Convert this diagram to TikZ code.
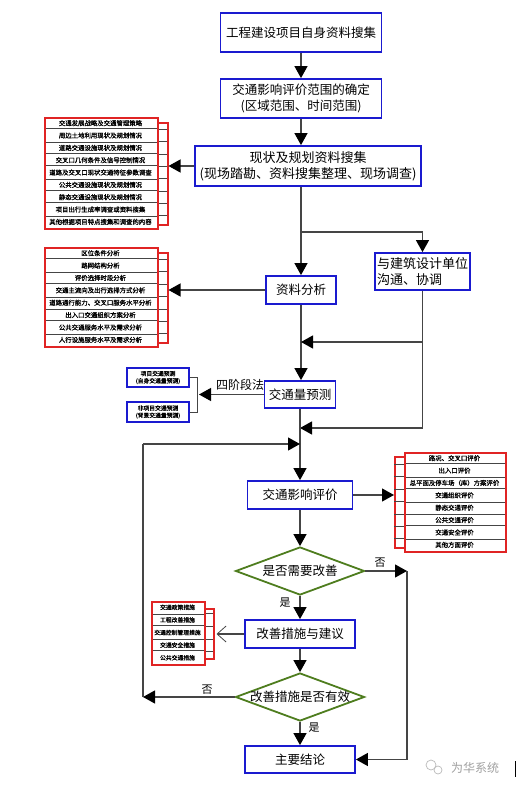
\documentclass[tikz,border=0pt]{standalone}
\usepackage{fontspec}
\setmainfont{Noto Sans CJK SC}
\newfontfamily\lfont[FakeBold=1.2]{Noto Sans CJK SC}
\usetikzlibrary{shapes.geometric,arrows.meta,calc}
\definecolor{bbl}{HTML}{1A1ACF}
\definecolor{rred}{HTML}{E02424}
\definecolor{ggr}{HTML}{4E7D1E}
\definecolor{lgray}{HTML}{454545}
\begin{document}
\begin{tikzpicture}[x=1pt,y=-1pt,
  mainbox/.style={draw=bbl, line width=1.8pt, fill=white, inner sep=1pt, align=center, font=\fontsize{12.5}{15.5}\selectfont},
  decision/.style={shape=diamond, draw=ggr, line width=1.8pt, fill=white, minimum width=129pt, minimum height=48pt, inner sep=0pt},
  dtext/.style={font=\fontsize{12.5}{15}\selectfont, inner sep=0pt},
  conn/.style={draw=lgray, line width=1.2pt},
  arr/.style={-{Triangle[length=12pt,width=13pt,color=black]}},
  openarr/.style={-{Straight Barb[length=9pt,width=16pt,line width=0.8pt]}},
  lbl/.style={font=\fontsize{11}{13}\selectfont, inner sep=0pt, text=black},
  smallbox/.style={draw=bbl, line width=1.5pt, fill=white, minimum width=62pt, inner sep=0.5pt, align=center, font=\lfont\fontsize{5.8}{7.2}\selectfont},
  listframe/.style={draw=rred, line width=1.8pt},
  bracketbox/.style={draw=rred, line width=1.5pt},
  litem/.style={font=\lfont\fontsize{6.4}{7}\selectfont, inner sep=0pt},
  sep/.style={draw=lgray, line width=0.6pt, double=white, double distance=0.8pt},
  tickln/.style={draw=lgray, line width=0.6pt}
]
\useasboundingbox (0,0) rectangle (516,792);

% ---------- main column ----------
\node[mainbox, minimum width=161pt, minimum height=39pt] (b1) at (301,32.5) {工程建设项目自身资料搜集};
\node[mainbox, minimum width=161pt, minimum height=39pt] (b2) at (301,98.5) {交通影响评价范围的确定\\(区域范围、时间范围)};
\node[mainbox, minimum width=226pt, minimum height=40pt, font=\fontsize{13}{16}\selectfont] (b3) at (308,166) {现状及规划资料搜集\\(现场踏勘、资料搜集整理、现场调查)};
\node[mainbox, minimum width=70pt, minimum height=28pt] (a) at (301,290) {资料分析};
\node[mainbox, minimum width=95pt, minimum height=37pt, align=left, font=\fontsize{13}{16}\selectfont] (c) at (422.5,271.5) {与建筑设计单位\\沟通、协调};
\node[mainbox, minimum width=71pt, minimum height=27pt] (p) at (300,394.5) {交通量预测};
\node[mainbox, minimum width=105pt, minimum height=28pt] (e) at (300,495) {交通影响评价};
\node[decision] (d1) at (300,571) {};
\node[dtext] (d1t) at (d1) {是否需要改善};
\node[mainbox, minimum width=110pt, minimum height=28pt] (i) at (300,634) {改善措施与建议};
\node[decision] (d2) at (300,697) {};
\node[dtext] (d2t) at (d2) {改善措施是否有效};
\node[mainbox, minimum width=110pt, minimum height=27pt] (k) at (300,759.5) {主要结论};

% helper coordinates
\coordinate (br) at (301,232);
\coordinate (m1) at (301,342);
\coordinate (m2) at (300,428);
\coordinate (m3) at (300,444);
\coordinate (lp1) at (143,444);
\coordinate (lp2) at (143,697);
\coordinate (rp1) at (407,571);
\coordinate (rp2) at (407,759.5);

% main connectors
\draw[conn,arr] (b1.south) -- (b2.north);
\draw[conn,arr] (b2.south) -- (b2.south |- b3.north);
\draw[conn,arr] (a.north |- b3.south) -- (a.north);
\draw[conn,arr] (br) -| (c.north);
\draw[conn,arr] (a.south) -- (a.south |- p.north);
\draw[conn] (c.south) -- (c.south |- m2);
\draw[conn,arr] (c.south |- m1) -- (m1);
\draw[conn,arr] (c.south |- m2) -- (m2);
\draw[conn,arr] (p.south) -- (e.north);
\draw[conn,arr] (e.south) -- (d1.north);
\draw[conn,arr] (d1.south) -- (i.north);
\draw[conn,arr] (i.south) -- (d2.north);
\draw[conn,arr] (d2.south) -- (k.north);
\draw[conn,arr] (d1.east) -- (rp1);
\draw[conn] (rp1) -- (rp2);
\draw[conn,arr] (rp2) -- (k.east);
\draw[conn,arr] (d2.west) -- (lp2);
\draw[conn] (lp2) -- (lp1);
\draw[conn,arr] (lp1) -- (m3);

\node[lbl] (yes1) at (285,603) {是};
\node[lbl] (no1) at (380,563) {否};
\node[lbl] (no2) at (207,690) {否};
\node[lbl] (yes2) at (314,728) {是};

% ---------- list 1 ----------
\node[bracketbox, anchor=north west, minimum width=10pt, minimum height=102pt, inner sep=0pt] (k1) at (157,122) {};
\foreach \i in {1,...,8} \draw[tickln] (157,{117+\i*12.333}) -- (167,{117+\i*12.333});
\foreach \i in {1,...,8} \draw[sep] (44,{117+\i*12.333}) -- (157,{117+\i*12.333});
\foreach \t [count=\i] in {交通发展战略及交通管理策略,周边土地利用现状及规划情况,道路交通设施现状及规划情况,交叉口几何条件及信号控制情况,道路及交叉口现状交通特征参数调查,公共交通设施现状及规划情况,静态交通设施现状及规划情况,项目出行生成率调查或资料搜集,其他根据项目特点搜集和调查的内容}
  \node[litem] (l1-\i) at (100.5,{117+(\i-0.5)*12.333}) {\t};
\node[listframe, anchor=north west, minimum width=113pt, minimum height=111pt, inner sep=0pt] (list1) at (44,117) {};
\draw[conn,arr] (b3.west) -- (b3.west -| k1.east);

% ---------- list 2 ----------
\node[bracketbox, anchor=north west, minimum width=10pt, minimum height=90pt, inner sep=0pt] (k2) at (157,252) {};
\foreach \i in {1,...,7} \draw[tickln] (157,{247+\i*12.375}) -- (167,{247+\i*12.375});
\foreach \i in {1,...,7} \draw[sep] (44,{247+\i*12.375}) -- (157,{247+\i*12.375});
\foreach \t [count=\i] in {区位条件分析,路网结构分析,评价选择时段分析,交通主流向及出行选择方式分析,道路通行能力、交叉口服务水平分析,出入口交通组织方案分析,公共交通服务水平及需求分析,人行设施服务水平及需求分析}
  \node[litem] (l2-\i) at (100.5,{247+(\i-0.5)*12.375}) {\t};
\node[listframe, anchor=north west, minimum width=113pt, minimum height=99pt, inner sep=0pt] (list2) at (44,247) {};
\draw[conn,arr] (a.west) -- (a.west -| k2.east);

% ---------- list 3 ----------
\node[bracketbox, anchor=north west, minimum width=10pt, minimum height=91pt, inner sep=0pt] (k3) at (394,456) {};
\foreach \i in {1,...,7} \draw[tickln] (394,{452+\i*12.375}) -- (404,{452+\i*12.375});
\foreach \i in {1,...,7} \draw[sep] (404,{452+\i*12.375}) -- (505,{452+\i*12.375});
\foreach \t [count=\i] in {路况、交叉口评价,出入口评价,总平面及停车场（库）方案评价,交通组织评价,静态交通评价,公共交通评价,交通安全评价,其他方面评价}
  \node[litem] (l3-\i) at (454.5,{452+(\i-0.5)*12.375}) {\t};
\node[listframe, anchor=north west, minimum width=101pt, minimum height=99pt, inner sep=0pt] (list3) at (404,452) {};
\draw[conn,arr] (e.east) -- (e.east -| k3.west);

% ---------- list 4 ----------
\node[bracketbox, anchor=north west, minimum width=9pt, minimum height=50pt, inner sep=0pt] (k4) at (204,608) {};
\foreach \i in {1,...,4} \draw[tickln] (204,{601+\i*12.6}) -- (213,{601+\i*12.6});
\foreach \i in {1,...,4} \draw[sep] (151,{601+\i*12.6}) -- (204,{601+\i*12.6});
\foreach \t [count=\i] in {交通政策措施,工程改善措施,交通控制管理措施,交通安全措施,公共交通措施}
  \node[litem, font=\lfont\fontsize{5.8}{7}\selectfont] (l4-\i) at (177.5,{601+(\i-0.5)*12.6}) {\t};
\node[listframe, anchor=north west, minimum width=53pt, minimum height=63pt, inner sep=0pt] (list4) at (151,601) {};
\draw[conn,openarr] (i.west) -- ($(i.west -| k4.east)+(2,0)$);

% ---------- forecast boxes ----------
\node[smallbox, minimum height=19pt] (s1) at (158,377.5) {项目交通预测\\(自身交通量预测)};
\node[smallbox, minimum height=20pt] (s2) at (158,412) {非项目交通预测\\(背景交通量预测)};
\draw[draw=lgray, line width=0.8pt] (s1.east) -- ++(8,0) |- (s2.east);
\coordinate (sb) at (199,394.5);
\draw[conn,arr] (p.west) -- (sb);
\node[lbl, font=\fontsize{12}{14}\selectfont] (fourstep) at (240,385) {四阶段法};

% ---------- watermark ----------
\draw[gray!55, line width=0.7pt] (431,765) circle (5);
\draw[gray!55, line width=0.7pt] (438,770) circle (4);
\node[font=\fontsize{12}{14}\selectfont, text=gray!75, inner sep=0pt] (wm) at (475,768) {为华系统};
\draw[black, line width=1pt] (515,761) -- (515,777);
\end{tikzpicture}
\end{document}
